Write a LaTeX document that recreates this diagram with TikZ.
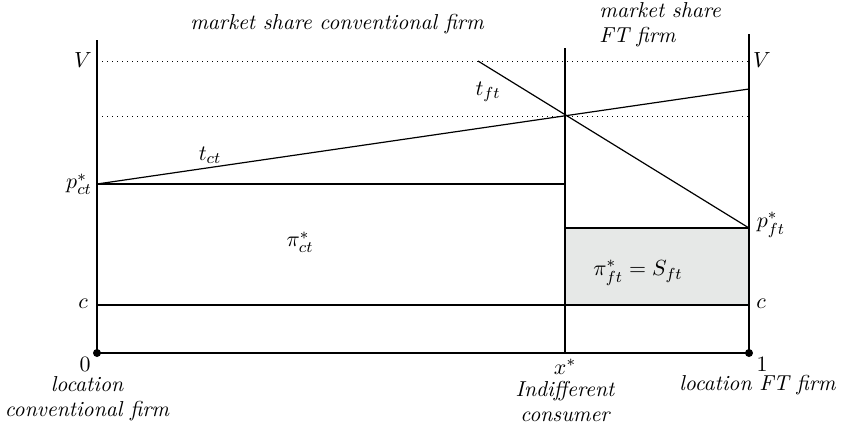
\documentclass[tikz,border=0pt]{standalone}
\usepackage{amsmath,amssymb}
\usepackage{tikz}
\usetikzlibrary{positioning,calc}
\definecolor{ShadeGray}{HTML}{E6E8E7}

\begin{document}
\begin{tikzpicture}[x=0.5pt,y=-0.5pt,font=\fontsize{10.8}{12.5}\selectfont\itshape,
    axisline/.style={line width=0.9pt},
    thinline/.style={line width=0.6pt},
    dotline/.style={dotted,line width=0.5pt},
    lbl/.style={inner sep=1pt}]
  \useasboundingbox (0,0) rectangle (843,424);
  % key points
  \coordinate (o) at (97,353);
  \coordinate (one) at (749,353);
  \coordinate (xs) at (565,353);
  \coordinate (ltop) at (97,40);
  \coordinate (rtop) at (749,34);
  \coordinate (mtop) at (565,48);
  \coordinate (vl) at (97,61);
  \coordinate (vr) at (749,61);
  \coordinate (ml) at (97,116);
  \coordinate (mr) at (749,116);
  \coordinate (pct) at (97,184);
  \coordinate (pctx) at (565,184);
  \coordinate (tcend) at (749,89);
  \coordinate (tfstart) at (478,61);
  \coordinate (pft) at (749,228);
  \coordinate (pftx) at (565,228);
  \coordinate (cl) at (97,305);
  \coordinate (cx) at (565,305);
  \coordinate (cr) at (749,305);
  % shaded profit of FT firm
  \fill[ShadeGray] (pftx) rectangle (cr);
  % dotted levels
  \draw[dotline] (vl) -- (vr);
  \draw[dotline] (ml) -- (mr);
  % axes
  \draw[axisline] (o) -- (ltop);
  \draw[axisline] (one) -- (rtop);
  \draw[axisline] (o) -- (one);
  \draw[thinline] (xs) -- (mtop);
  % price and cost lines
  \draw[thinline] (pct) -- (pctx);
  \draw[thinline] (pftx) -- (pft);
  \draw[thinline] (cl) -- (cr);
  % transport cost lines
  \draw[thinline] (pct) -- (tcend);
  \draw[thinline] (tfstart) -- (pft);
  \fill (o) circle (4);
  \fill (one) circle (4);
  % labels
  \node[lbl] (share) at (337,24) {market share conventional firm};
  \node[lbl,align=left,anchor=west] (shareft) at (597,25) {market share\\FT firm};
  \node[lbl] (vleft) at (83,60) {$V$};
  \node[lbl] (vright) at (762,60) {$V$};
  \node[lbl] (pctl) at (79,184) {$p^*_{ct}$};
  \node[lbl] (pftl) at (771,225) {$p^*_{ft}$};
  \node[lbl] (cleft) at (83,304) {$c$};
  \node[lbl] (cright) at (761,304) {$c$};
  \node[lbl] (tct) at (210,155) {$t_{ct}$};
  \node[lbl] (tft) at (488,92) {$t_{ft}$};
  \node[lbl] (pict) at (300,242) {$\pi^*_{ct}$};
  \node[lbl] (pift) at (638,273) {$\pi^*_{ft}=S_{ft}$};
  \node[lbl] (zero) at (85,364) {$0$};
  \node[lbl] (onel) at (762,364) {$1$};
  \node[lbl,align=center] (locct) at (87,399) {location\\conventional firm};
  \node[lbl] (xstar) at (565,367) {$x^*$};
  \node[lbl,align=center] (indiff) at (565,401) {Indifferent\\consumer};
  \node[lbl,anchor=east] (locft) at (838,385) {location FT firm};
\end{tikzpicture}
\end{document}
